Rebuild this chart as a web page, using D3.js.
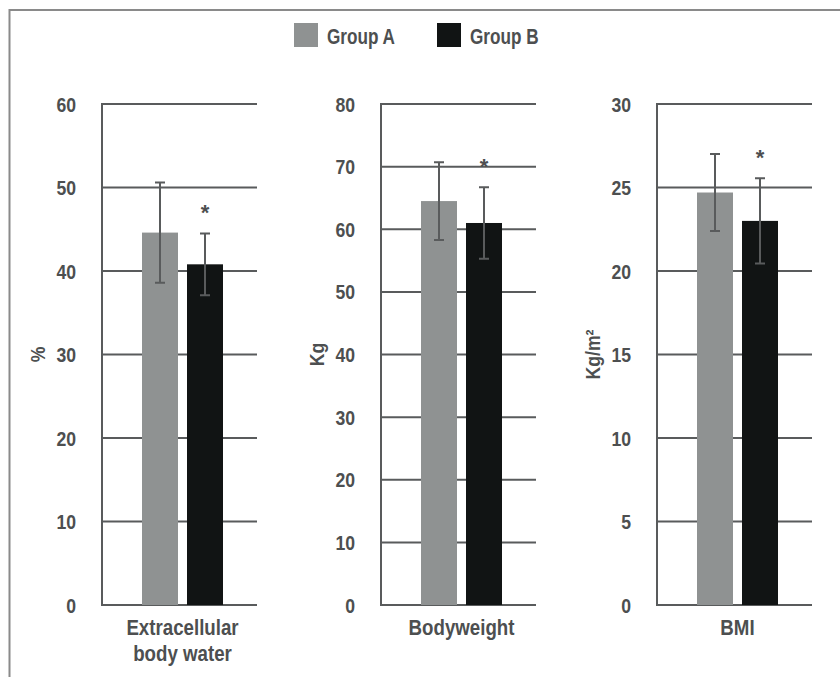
<!DOCTYPE html>
<html>
<head>
<meta charset="utf-8">
<script src="https://cdn.jsdelivr.net/npm/d3@7"></script>
<style>
  body { margin: 0; background: #fff; }
  text { font-family: 'Liberation Sans', Arial, sans-serif; font-weight: bold; fill: #4d4f50; }
</style>
</head>
<body>
<div id="chart"></div>
<script>
const metrics = [['Extracellular', 'body water'], ['Bodyweight'], ['BMI']],
      groups = ['Group A', 'Group B'],
      meanA = [44.6, 64.5, 24.7],
      errA = [6.0, 6.2, 2.3],
      meanB = [40.8, 61.0, 23.0],
      errB = [3.7, 5.7, 2.55],
      yMax = [60, 80, 30],
      yStep = [10, 10, 5],
      yTitles = ['%', 'Kg', 'Kg/m²'],
      significant = [true, true, true];

const colors = ['#8f9292', '#111414'],
      lineColor = '#595b5c';

const W = 840, H = 677;

// condensed look: squeeze the bold sans horizontally
const narrow = (x, y, sx, rot) =>
  'translate(' + x + ',' + y + ')' + (rot ? ' rotate(' + rot + ')' : '') + ' scale(' + sx + ',1)';

const svg = d3.select('#chart').append('svg')
      .attr('width', W)
      .attr('height', H);

// frame (top and left edges only)
svg.append('path')
    .attr('d', 'M9.5,677 V10 H840')
    .attr('fill', 'none')
    .attr('stroke', '#8a8a8a')
    .attr('stroke-width', 2);

// legend
const legend = svg.append('g');
const legendX = [294, 437];
groups.forEach((g, i) => {
  legend.append('rect')
      .attr('x', legendX[i]).attr('y', 23)
      .attr('width', 24).attr('height', 24)
      .attr('fill', colors[i]);
  legend.append('text')
      .attr('transform', narrow(legendX[i] + 33, 44, 0.78))
      .style('font-size', '22px')
      .text(g);
});

const panelX = [102, 381, 657],
      panelW = 155,
      plotTop = 104, plotBottom = 605;

const xBand = d3.scaleBand().domain(groups).range([40, 121]).paddingInner(0.2);

metrics.forEach((m, p) => {
  const yScale = d3.scaleLinear().domain([0, yMax[p]]).range([plotBottom, plotTop]);
  const ticks = d3.range(0, yMax[p] + yStep[p] / 2, yStep[p]);

  const g = svg.append('g')
      .attr('transform', 'translate(' + panelX[p] + ',0)');

  // gridlines
  g.selectAll('line.grid')
      .data(ticks)
    .enter().append('line')
      .attr('class', 'grid')
      .attr('x1', 0).attr('x2', panelW)
      .attr('y1', d => yScale(d)).attr('y2', d => yScale(d))
      .attr('stroke', lineColor)
      .attr('stroke-width', 2);

  // y axis labels
  g.selectAll('text.tick')
      .data(ticks)
    .enter().append('text')
      .attr('class', 'tick')
      .attr('transform', d => narrow(-26, yScale(d) + 7.5, 0.84))
      .attr('text-anchor', 'end')
      .style('font-size', '21px')
      .text(d => d);

  // y axis title
  g.append('text')
      .attr('transform', narrow(-64, (plotTop + plotBottom) / 2, 0.84, -90))
      .attr('text-anchor', 'middle')
      .attr('dy', '0.35em')
      .style('font-size', '21px')
      .text(yTitles[p]);

  const vals = [meanA[p], meanB[p]],
        errs = [errA[p], errB[p]];

  g.selectAll('rect')
      .data(groups)
    .enter().append('rect')
      .attr('x', d => xBand(d))
      .attr('width', xBand.bandwidth())
      .attr('y', (d, i) => yScale(vals[i]))
      .attr('height', (d, i) => plotBottom - yScale(vals[i]))
      .attr('fill', (d, i) => colors[i]);

  // y axis line
  g.append('line')
      .attr('x1', 0).attr('x2', 0)
      .attr('y1', plotTop - 1).attr('y2', plotBottom + 1)
      .attr('stroke', lineColor)
      .attr('stroke-width', 2);

  // error bars
  groups.forEach((d, i) => {
    const cx = xBand(d) + xBand.bandwidth() / 2,
          y0 = yScale(vals[i] - errs[i]),
          y1 = yScale(vals[i] + errs[i]);
    g.append('path')
        .attr('d', 'M' + cx + ',' + y0 + 'V' + y1 +
                   'M' + (cx - 5) + ',' + y0 + 'H' + (cx + 5) +
                   'M' + (cx - 5) + ',' + y1 + 'H' + (cx + 5))
        .attr('fill', 'none')
        .attr('stroke', lineColor)
        .attr('stroke-width', 2);
  });

  if (significant[p]) {
    const bx = xBand(groups[1]) + xBand.bandwidth() / 2;
    g.append('text')
        .attr('x', bx)
        .attr('y', yScale(meanB[p] + errB[p]) - 13)
        .attr('text-anchor', 'middle')
        .style('font-size', '22px')
        .text('*');
  }

  // x label
  const cx = xBand.range()[0] + (xBand.range()[1] - xBand.range()[0]) / 2;
  m.forEach((line, k) => {
    g.append('text')
        .attr('transform', narrow(cx, 635 + k * 26, 0.85))
        .attr('text-anchor', 'middle')
        .style('font-size', '22px')
        .text(line);
  });
});
</script>
</body>
</html>
